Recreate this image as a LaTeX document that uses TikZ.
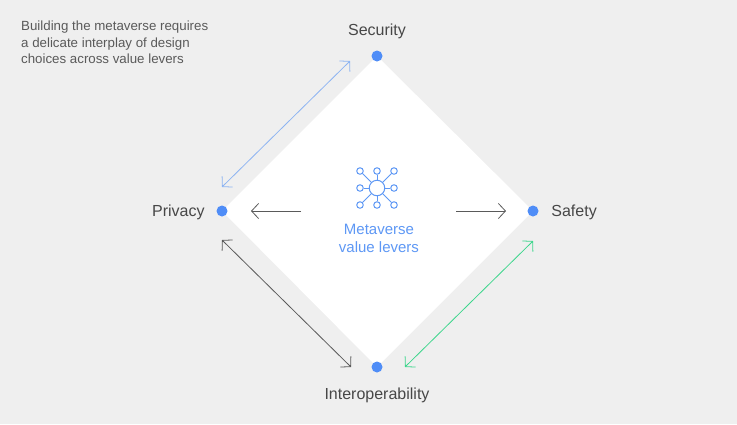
\documentclass[tikz,border=0pt]{standalone}
\usepackage{fontspec}
\setmainfont{Liberation Sans}
\usepackage{xcolor}
\usetikzlibrary{arrows.meta,positioning}

\definecolor{bggray}{HTML}{EFEFEF}
\definecolor{dotblue}{HTML}{4F8DF7}
\definecolor{iconblue}{HTML}{5E98F5}
\definecolor{skyblue}{HTML}{8DB4F2}
\definecolor{mint}{HTML}{3DD68C}
\definecolor{labelgray}{HTML}{474747}
\definecolor{arrowgray}{HTML}{5A5A5A}

\begin{document}
\begin{tikzpicture}[x=1pt,y=-1pt,>={Straight Barb[length=7pt,width=15pt]},
  lever/.style={circle,fill=dotblue,inner sep=0pt,minimum size=11pt},
  lbl/.style={inner sep=0pt,text=labelgray,font=\fontsize{16}{19}\selectfont},
  hub/.style={circle,draw=iconblue,line width=1pt,inner sep=0pt,minimum size=15.5pt},
  twig/.style={circle,draw=iconblue,line width=1pt,inner sep=0pt,minimum size=6.5pt}]
\fill[bggray] (0,0) rectangle (737,424);
\useasboundingbox (0,0) rectangle (737,424);
% corners of the diamond
\coordinate (S) at (377,56);
\coordinate (P) at (222,211);
\coordinate (F) at (533,211);
\coordinate (I) at (377,367);
\fill[white] (S) -- (F) -- (I) -- (P) -- cycle;
\node[lever] (sec) at (S) {};
\node[lever] (priv) at (P) {};
\node[lever] (safe) at (F) {};
\node[lever] (inter) at (I) {};
\node[lbl,above=11.5pt of sec] {Security};
\node[lbl,left=11.5pt of priv,yshift=-1pt] {Privacy};
\node[lbl,right=12.5pt of safe,yshift=-1pt] {Safety};
\node[lbl,below=14.5pt of inter] {Interoperability};
% caption
\node[anchor=north west,inner sep=0pt,align=left,text=labelgray!90,
  font=\fontsize{13.3}{16.5}\selectfont] (note) at (21,21)
  {Building the metaverse requires\\a delicate interplay of design\\choices across value levers};
% icon in the middle
\node[hub] (core) at (377,188) {};
\foreach \dx/\dy [count=\i] in {-17/-17,0/-17,17/-17,-17/0,17/0,-17/17,0/17,17/17}{
  \node[twig] (t\i) at ([shift={(\dx,\dy)}]core) {};
  \draw[iconblue,line width=1pt] (core) -- (t\i);
}
\node[align=center,inner sep=0pt,text=iconblue,
  font=\fontsize{15}{18}\selectfont] (title) at (379,238) {Metaverse\\value levers};
% arrow ends
\coordinate (a1) at (222,187);
\coordinate (a2) at (350,61);
\coordinate (b1) at (533,241);
\coordinate (b2) at (405,367);
\coordinate (c1) at (222,240);
\coordinate (c2) at (351,367);
\coordinate (d1) at (301,211);
\coordinate (d2) at (251,211);
\coordinate (e1) at (456,211);
\coordinate (e2) at (506,211);
\draw[<->,skyblue,line width=0.8pt] (a1) -- (a2);
\draw[<->,mint,line width=0.8pt] (b1) -- (b2);
\draw[<->,arrowgray,line width=0.8pt] (c1) -- (c2);
\draw[->,arrowgray,line width=0.8pt] (d1) -- (d2);
\draw[->,arrowgray,line width=0.8pt] (e1) -- (e2);
\end{tikzpicture}
\end{document}
